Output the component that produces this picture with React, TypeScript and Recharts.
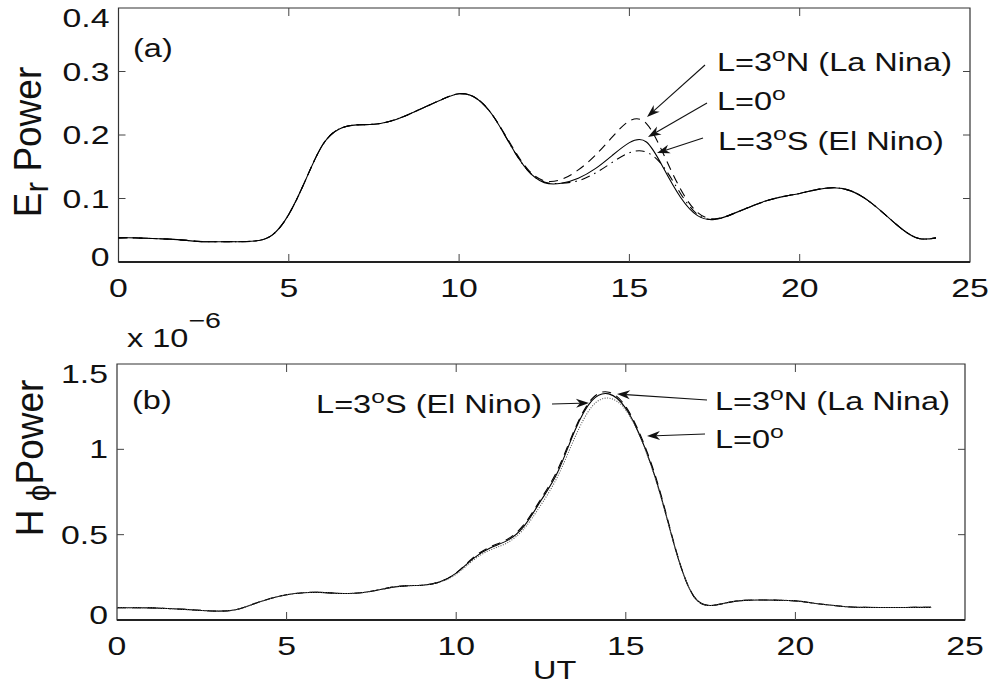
import React from "react";
import { LineChart, Line, XAxis, YAxis, ReferenceArea } from "recharts";

// UT hours, sampled every half hour
const hours = [
  0, 0.5, 1, 1.5, 2, 2.5, 3, 3.5, 4, 4.5, 5, 5.5, 6, 6.5, 7, 7.5, 8, 8.5, 9, 9.5,
  10, 10.5, 11, 11.5, 12, 12.5, 13, 13.5, 14, 14.5, 15, 15.5, 16, 16.5, 17, 17.5,
  18, 18.5, 19, 19.5, 20, 20.5, 21, 21.5, 22, 22.5, 23, 23.5, 24,
];

// (a) Er power
const erL0 = [
  0.038, 0.038, 0.037, 0.036, 0.034, 0.032, 0.032, 0.032, 0.033, 0.042, 0.075, 0.13,
  0.185, 0.21, 0.216, 0.217, 0.222, 0.232, 0.244, 0.256, 0.265, 0.258, 0.23, 0.185,
  0.145, 0.125, 0.124, 0.132, 0.147, 0.168, 0.188, 0.189, 0.148, 0.102, 0.073, 0.067,
  0.075, 0.086, 0.096, 0.103, 0.108, 0.114, 0.117, 0.112, 0.097, 0.075, 0.052, 0.037, 0.038,
];
const erN = [
  0.038, 0.038, 0.037, 0.036, 0.034, 0.032, 0.032, 0.032, 0.033, 0.042, 0.075, 0.13,
  0.185, 0.21, 0.216, 0.217, 0.222, 0.232, 0.244, 0.256, 0.265, 0.258, 0.23, 0.187,
  0.147, 0.128, 0.13, 0.145, 0.168, 0.197, 0.222, 0.218, 0.17, 0.115, 0.078, 0.068,
  0.075, 0.086, 0.096, 0.103, 0.108, 0.114, 0.117, 0.112, 0.097, 0.075, 0.052, 0.037, 0.038,
];
const erS = [
  0.038, 0.038, 0.037, 0.036, 0.034, 0.032, 0.032, 0.032, 0.033, 0.042, 0.075, 0.13,
  0.185, 0.21, 0.216, 0.217, 0.222, 0.232, 0.244, 0.256, 0.265, 0.258, 0.23, 0.185,
  0.145, 0.126, 0.124, 0.128, 0.14, 0.157, 0.172, 0.173, 0.15, 0.108, 0.075, 0.067,
  0.075, 0.086, 0.096, 0.103, 0.108, 0.114, 0.117, 0.112, 0.097, 0.075, 0.052, 0.037, 0.038,
];

// (b) Hphi power, x 1e-6
const hpL0 = [
  0.072, 0.072, 0.071, 0.067, 0.062, 0.056, 0.052, 0.06, 0.092, 0.125, 0.148, 0.16,
  0.162, 0.156, 0.157, 0.168, 0.188, 0.2, 0.204, 0.222, 0.275, 0.36, 0.422, 0.465,
  0.55, 0.7, 0.87, 1.11, 1.285, 1.325, 1.24, 1.04, 0.75, 0.39, 0.14, 0.085,
  0.102, 0.115, 0.117, 0.116, 0.112, 0.1, 0.088, 0.078, 0.074, 0.073, 0.073, 0.074, 0.074,
];
const hpN = [
  0.072, 0.072, 0.071, 0.067, 0.062, 0.056, 0.052, 0.06, 0.092, 0.125, 0.148, 0.16,
  0.162, 0.156, 0.157, 0.168, 0.188, 0.2, 0.204, 0.222, 0.276, 0.365, 0.428, 0.472,
  0.56, 0.71, 0.885, 1.12, 1.295, 1.335, 1.25, 1.05, 0.76, 0.395, 0.14, 0.085,
  0.102, 0.115, 0.117, 0.116, 0.112, 0.1, 0.088, 0.078, 0.074, 0.073, 0.073, 0.074, 0.074,
];
const hpS = [
  0.072, 0.072, 0.071, 0.067, 0.062, 0.056, 0.052, 0.06, 0.092, 0.125, 0.148, 0.16,
  0.162, 0.156, 0.157, 0.168, 0.188, 0.2, 0.204, 0.222, 0.268, 0.35, 0.41, 0.452,
  0.535, 0.675, 0.845, 1.07, 1.25, 1.3, 1.23, 1.035, 0.745, 0.39, 0.14, 0.085,
  0.102, 0.115, 0.117, 0.116, 0.112, 0.1, 0.088, 0.078, 0.074, 0.073, 0.073, 0.074, 0.074,
];

const xTicks = [0, 5, 10, 15, 20, 25];
const erTicks = [0, 0.1, 0.2, 0.3, 0.4];
const hpTicks = [0, 0.5, 1, 1.5];

const erRows = hours.map((t, i) => ({ t, l0: erL0[i], n: erN[i], s: erS[i] }));
const hpRows = hours.map((t, i) => ({ t, l0: hpL0[i], n: hpN[i], s: hpS[i] }));

const FONT = '"Liberation Sans", Arial, Helvetica, "DejaVu Sans", sans-serif';
const SX = 1.3; // the figure's text is stretched sideways
const INK = "#111";

function SText({ x, y, size = 25, anchor = "start", children }: any) {
  return (
    <text
      transform={`translate(${x},${y}) scale(${SX},1)`}
      fontSize={size}
      fontFamily={FONT}
      textAnchor={anchor}
      fill={INK}
    >
      {children}
    </text>
  );
}

function makeXTick(plotH: number) {
  return function XTick({ x, y, payload }: any) {
    return (
      <g>
        {payload.value > 0 && payload.value < 25 && (
          <>
            <line x1={x} x2={x} y1={y} y2={y - 8} stroke="#444" />
            <line x1={x} x2={x} y1={y - plotH} y2={y - plotH + 8} stroke="#444" />
          </>
        )}
        <SText x={x} y={y + 35} anchor="middle" size={26}>
          {payload.value}
        </SText>
      </g>
    );
  };
}

function makeYTick(plotW: number, top: number, bottom: number) {
  return function YTick({ x, y, payload }: any) {
    const ty = Math.min(Math.max(y, top + 10), bottom - 5);
    const inner = y > top + 1 && y < bottom - 1;
    return (
      <g>
        {inner && (
          <>
            <line x1={x} x2={x + 7} y1={y} y2={y} stroke="#444" />
            <line x1={x + plotW - 7} x2={x + plotW} y1={y} y2={y} stroke="#444" />
          </>
        )}
        <SText x={x - 9} y={ty + 9} anchor="end" size={26}>
          {payload.value}
        </SText>
      </g>
    );
  };
}

function Arrow({ from, to }: { from: number[]; to: number[] }) {
  const [x1, y1] = from;
  const [x2, y2] = to;
  const a = Math.atan2(y2 - y1, x2 - x1);
  const len = 13;
  const w = 4.5;
  const bx = x2 - len * Math.cos(a);
  const by = y2 - len * Math.sin(a);
  const nx = x2 - 0.7 * len * Math.cos(a);
  const ny = y2 - 0.7 * len * Math.sin(a);
  const px = -Math.sin(a) * w;
  const py = Math.cos(a) * w;
  return (
    <g>
      <line x1={x1} y1={y1} x2={nx} y2={ny} stroke={INK} strokeWidth={1.1} />
      <polygon
        points={`${x2},${y2} ${bx + px},${by + py} ${nx},${ny} ${bx - px},${by - py}`}
        fill={INK}
      />
    </g>
  );
}

function Deg({ pre, post }: { pre: string; post: string }) {
  return (
    <>
      {pre}
      <tspan fontSize={19} dy={-10}>
        o
      </tspan>
      <tspan dy={10}>{post}</tspan>
    </>
  );
}

const lineProps = {
  type: "natural" as const,
  dot: false,
  stroke: "#000",
  strokeWidth: 1.1,
  isAnimationActive: false,
};

export default function App() {
  const topH = 254;
  const topW = 851.5;
  const botH = 256;
  const botW = 848;

  return (
    <div
      style={{
        position: "absolute",
        left: 0,
        top: 0,
        width: 990,
        height: 685,
        background: "#fff",
        overflow: "hidden",
      }}
    >
      <div style={{ position: "absolute", left: 0, top: 0 }}>
        <LineChart
          width={990}
          height={325}
          data={erRows}
          margin={{ top: 8, right: 20, bottom: 33, left: 0 }}
        >
          <XAxis
            dataKey="t"
            type="number"
            domain={[0, 25]}
            ticks={xTicks}
            height={30}
            tickLine={false}
            tickSize={0}
            tickMargin={0}
            axisLine={{ stroke: "#222", strokeWidth: 2 }}
            tick={makeXTick(topH)}
            interval={0}
          />
          <YAxis
            type="number"
            domain={[0, 0.4]}
            ticks={erTicks}
            width={118.5}
            tickLine={false}
            tickSize={0}
            tickMargin={0}
            axisLine={false}
            tick={makeYTick(topW, 8, 262)}
            interval={0}
          />
          <Line dataKey="l0" {...lineProps} />
          <Line dataKey="n" {...lineProps} strokeDasharray="9 6" />
          <Line dataKey="s" {...lineProps} strokeDasharray="9 5 1.5 5" />
          <ReferenceArea
            x1={0}
            x2={25}
            y1={0}
            y2={0.4}
            fill="none"
            stroke="#333"
            strokeWidth={1.2}
            ifOverflow="visible"
          />
        </LineChart>
      </div>

      <div style={{ position: "absolute", left: 0, top: 340 }}>
        <LineChart
          width={990}
          height={345}
          data={hpRows}
          margin={{ top: 24, right: 25, bottom: 35, left: 0 }}
        >
          <XAxis
            dataKey="t"
            type="number"
            domain={[0, 25]}
            ticks={xTicks}
            height={30}
            tickLine={false}
            tickSize={0}
            tickMargin={0}
            axisLine={{ stroke: "#222", strokeWidth: 2 }}
            tick={makeXTick(botH)}
            interval={0}
          />
          <YAxis
            type="number"
            domain={[0, 1.5]}
            ticks={hpTicks}
            width={117}
            tickLine={false}
            tickSize={0}
            tickMargin={0}
            axisLine={false}
            tick={makeYTick(botW, 24, 280)}
            interval={0}
          />
          <Line dataKey="l0" {...lineProps} />
          <Line dataKey="n" {...lineProps} strokeDasharray="9 6" />
          <Line dataKey="s" {...lineProps} stroke="#555" strokeDasharray="1 1.5" />
          <ReferenceArea
            x1={0}
            x2={25}
            y1={0}
            y2={1.5}
            fill="none"
            stroke="#333"
            strokeWidth={1.2}
            ifOverflow="visible"
          />
        </LineChart>
      </div>

      <svg
        width={990}
        height={685}
        style={{ position: "absolute", left: 0, top: 0, pointerEvents: "none" }}
      >
        {/* axis titles */}
        <text
          transform={`translate(41,142) scale(1.05,1) rotate(-90)`}
          fontSize={37}
          fontFamily={FONT}
          textAnchor="middle"
          fill={INK}
        >
          E
          <tspan fontSize={32} dy={7}>
            r
          </tspan>
          <tspan dy={-7}> Power</tspan>
        </text>
        <text
          transform={`translate(43,458) scale(1.05,1) rotate(-90)`}
          fontSize={37}
          fontFamily={FONT}
          textAnchor="middle"
          fill={INK}
        >
          H
          <tspan fontSize={30} dy={6}>
            {" ϕ"}
          </tspan>
          <tspan dy={-6}>Power</tspan>
        </text>
        <SText x={533} y={679}>
          UT
        </SText>
        <SText x={127} y={347}>
          x 10
          <tspan fontSize={22} dy={-19}>
            −6
          </tspan>
        </SText>

        {/* panel tags */}
        <SText x={133} y={57}>
          (a)
        </SText>
        <SText x={132} y={409}>
          (b)
        </SText>

        {/* annotations, panel (a) */}
        <SText x={717} y={71}>
          <Deg pre="L=3" post="N (La Nina)" />
        </SText>
        <SText x={717} y={110}>
          <Deg pre="L=0" post="" />
        </SText>
        <SText x={718} y={150}>
          <Deg pre="L=3" post="S (El Nino)" />
        </SText>
        <Arrow from={[705, 65]} to={[647, 117]} />
        <Arrow from={[707, 103]} to={[648, 137]} />
        <Arrow from={[703, 138]} to={[657, 153]} />

        {/* annotations, panel (b) */}
        <SText x={715} y={410}>
          <Deg pre="L=3" post="N (La Nina)" />
        </SText>
        <SText x={715} y={448}>
          <Deg pre="L=0" post="" />
        </SText>
        <SText x={542} y={413} anchor="end">
          <Deg pre="L=3" post="S (El Nino)" />
        </SText>
        <Arrow from={[707, 400]} to={[617, 394]} />
        <Arrow from={[705, 434]} to={[647, 436]} />
        <Arrow from={[552, 404]} to={[589, 403]} />
      </svg>
    </div>
  );
}
